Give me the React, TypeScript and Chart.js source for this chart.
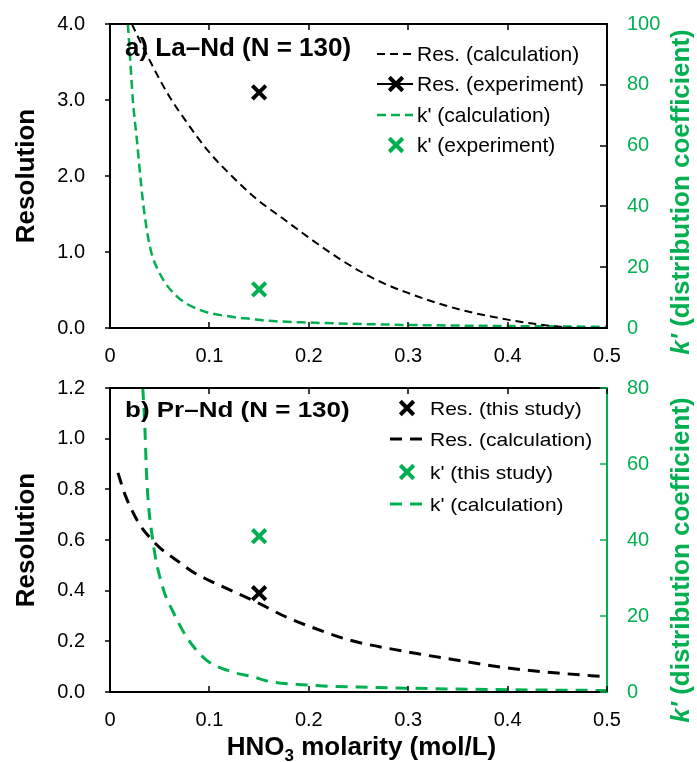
import React, { useEffect, useRef } from "react";
import { Chart, registerables } from "chart.js";

Chart.register(...registerables);

const FONT = "'Liberation Sans', Arial, Helvetica, sans-serif";
const GREEN = "#00B050";
const BLACK = "#000000";

// Shared x axis (HNO3 molarity, mol/L)
const molarityMin = 0;
const molarityMax = 0.5;
const molarityStep = 0.1;

// Panel a) La–Nd — resolution, calculated
const laResCalcX = [0.022, 0.03, 0.04, 0.05, 0.06, 0.077, 0.1, 0.124, 0.141, 0.15, 0.174, 0.2, 0.224, 0.251, 0.275, 0.3, 0.329, 0.359, 0.4, 0.433, 0.453, 0.47, 0.5];
const laResCalcY = [4.0, 3.78, 3.52, 3.27, 3.04, 2.71, 2.31, 1.98, 1.77, 1.67, 1.44, 1.19, 0.97, 0.75, 0.59, 0.46, 0.33, 0.22, 0.11, 0.045, 0.015, 0.0, 0.0];
// Panel a) k' (distribution coefficient), calculated
const laKCalcX = [0.018, 0.02, 0.023, 0.027, 0.033, 0.04, 0.05, 0.067, 0.09, 0.124, 0.141, 0.158, 0.2, 0.3, 0.4, 0.5];
const laKCalcY = [100, 90, 75, 62, 42, 27, 18, 10.5, 6, 3.6, 3.0, 2.4, 1.8, 1.0, 0.65, 0.4];
// Panel a) experimental points
const laExpX = [0.15];
const laResExpY = [3.1];
const laKExpY = [12.7];

// Panel b) Pr–Nd — resolution, calculated
const prResCalcX = [0.008, 0.015, 0.023, 0.03, 0.04, 0.05, 0.067, 0.085, 0.1, 0.125, 0.15, 0.175, 0.2, 0.241, 0.3, 0.35, 0.4, 0.45, 0.5];
const prResCalcY = [0.865, 0.78, 0.71, 0.66, 0.61, 0.57, 0.52, 0.47, 0.44, 0.395, 0.35, 0.3, 0.26, 0.205, 0.158, 0.125, 0.095, 0.075, 0.06];
// Panel b) k', calculated
const prKCalcX = [0.033, 0.035, 0.037, 0.043, 0.053, 0.064, 0.077, 0.097, 0.124, 0.144, 0.158, 0.2, 0.25, 0.3, 0.4, 0.5];
const prKCalcY = [80, 70, 56, 40, 27.6, 20.8, 14.5, 8.4, 5.2, 4.0, 2.9, 1.8, 1.3, 1.0, 0.6, 0.4];
// Panel b) this study
const prExpX = [0.15];
const prResExpY = [0.39];
const prKExpY = [41];

const zip = (xs: number[], ys: number[]) => xs.map((x, i) => ({ x, y: ys[i] }));

type LegendItem = { ds: number; kind: "line" | "marker" | "both" };

type PanelCfg = {
  title: string;
  titleBaseline: number;
  titleScaleY: number;
  rightColor: string;
  legendRows: number[];
  legendX0: number;
  legendX1: number;
  legendTextX: number;
  legendFont: number;
  legendScaleY: number;
  legendItems: LegendItem[];
  rightTitleCy: number;
  xTitleBaseline?: number;
};

function drawCross(ctx: CanvasRenderingContext2D, x: number, y: number, r: number, w: number, color: string) {
  const d = r * Math.SQRT1_2;
  ctx.save();
  ctx.strokeStyle = color;
  ctx.lineWidth = w;
  ctx.setLineDash([]);
  ctx.beginPath();
  ctx.moveTo(x - d, y - d);
  ctx.lineTo(x + d, y + d);
  ctx.moveTo(x + d, y - d);
  ctx.lineTo(x - d, y + d);
  ctx.stroke();
  ctx.restore();
}

function panelDecor(cfg: PanelCfg) {
  return {
    id: "panelDecor",
    afterDatasetsDraw(chart: any) {
      const ctx: CanvasRenderingContext2D = chart.ctx;
      const { left, right, top, bottom } = chart.chartArea;
      const sx = chart.scales.x;
      const sy = chart.scales.y;
      const sy1 = chart.scales.y1;
      ctx.save();

      // frame
      ctx.lineWidth = 2;
      ctx.strokeStyle = BLACK;
      ctx.beginPath();
      ctx.moveTo(right, top);
      ctx.lineTo(left, top);
      ctx.lineTo(left, bottom);
      ctx.lineTo(right, bottom);
      ctx.stroke();
      ctx.strokeStyle = cfg.rightColor;
      ctx.beginPath();
      ctx.moveTo(right, top - 1);
      ctx.lineTo(right, bottom + 1);
      ctx.stroke();

      // tick marks
      ctx.lineWidth = 1.5;
      ctx.strokeStyle = BLACK;
      ctx.beginPath();
      sx.ticks.forEach((t: any) => {
        const px = Math.round(sx.getPixelForValue(t.value));
        ctx.moveTo(px, bottom);
        ctx.lineTo(px, bottom - 6);
        ctx.moveTo(px, top);
        ctx.lineTo(px, top + 6);
      });
      sy.ticks.forEach((t: any) => {
        const py = Math.round(sy.getPixelForValue(t.value));
        ctx.moveTo(left, py);
        ctx.lineTo(left - 5, py);
      });
      ctx.stroke();
      ctx.strokeStyle = cfg.rightColor;
      ctx.beginPath();
      sy1.ticks.forEach((t: any) => {
        const py = Math.round(sy1.getPixelForValue(t.value));
        ctx.moveTo(right, py);
        ctx.lineTo(right - 7, py);
      });
      ctx.stroke();

      // panel title
      ctx.fillStyle = BLACK;
      ctx.font = `bold 26px ${FONT}`;
      ctx.textAlign = "left";
      ctx.textBaseline = "alphabetic";
      ctx.save();
      ctx.translate(left + 15, cfg.titleBaseline);
      ctx.scale(1, cfg.titleScaleY);
      ctx.fillText(cfg.title, 0, 0);
      ctx.restore();

      // legend
      const datasets = chart.data.datasets;
      cfg.legendItems.forEach((item, i) => {
        const ds = datasets[item.ds];
        const base = cfg.legendRows[i];
        const cy = base - 7;
        const color = ds.borderColor;
        if (item.kind === "line" || item.kind === "both") {
          ctx.save();
          ctx.strokeStyle = color;
          ctx.lineWidth = item.kind === "both" ? 2 : ds.borderWidth;
          ctx.setLineDash(item.kind === "both" ? [] : ds.borderDash || []);
          ctx.beginPath();
          ctx.moveTo(cfg.legendX0, cy);
          ctx.lineTo(cfg.legendX1, cy);
          ctx.stroke();
          ctx.restore();
        }
        if (item.kind === "marker" || item.kind === "both") {
          const mid = (cfg.legendX0 + cfg.legendX1) / 2 + 1;
          drawCross(ctx, mid, cy, ds.pointRadius, ds.pointBorderWidth, ds.pointBorderColor);
        }
        ctx.save();
        ctx.fillStyle = BLACK;
        ctx.font = `${cfg.legendFont}px ${FONT}`;
        ctx.translate(cfg.legendTextX, base);
        ctx.scale(1, cfg.legendScaleY);
        ctx.fillText(ds.label, 0, 0);
        ctx.restore();
      });

      // right axis title, reading upward, with italic k'
      {
        const p1 = "k'";
        const p2 = " (distribution coefficient)";
        ctx.save();
        ctx.fillStyle = GREEN;
        ctx.translate(682, cfg.rightTitleCy);
        ctx.rotate(-Math.PI / 2);
        ctx.textBaseline = "middle";
        ctx.font = `italic bold 26px ${FONT}`;
        const w1 = ctx.measureText(p1).width;
        ctx.font = `bold 26px ${FONT}`;
        const w2 = ctx.measureText(p2).width;
        const start = -(w1 + w2) / 2;
        ctx.font = `italic bold 26px ${FONT}`;
        ctx.fillText(p1, start, 0);
        ctx.font = `bold 26px ${FONT}`;
        ctx.fillText(p2, start + w1, 0);
        ctx.restore();
      }

      // x axis title with subscript
      if (cfg.xTitleBaseline !== undefined) {
        const a = "HNO";
        const s = "3";
        const b = " molarity (mol/L)";
        ctx.save();
        ctx.fillStyle = BLACK;
        ctx.textBaseline = "alphabetic";
        ctx.font = `bold 26px ${FONT}`;
        const wa = ctx.measureText(a).width;
        const wb = ctx.measureText(b).width;
        ctx.font = `bold 17px ${FONT}`;
        const ws = ctx.measureText(s).width;
        const cx = (left + right) / 2 + 3;
        let x = cx - (wa + ws + wb) / 2;
        const y = cfg.xTitleBaseline;
        ctx.font = `bold 26px ${FONT}`;
        ctx.fillText(a, x, y);
        x += wa;
        ctx.font = `bold 17px ${FONT}`;
        ctx.fillText(s, x, y + 6);
        x += ws;
        ctx.font = `bold 26px ${FONT}`;
        ctx.fillText(b, x, y);
        ctx.restore();
      }

      ctx.restore();
    },
  };
}

// keep label overhang from pushing the plot area inward
function noOverhang(s: any) {
  s.paddingTop = 0;
  s.paddingBottom = 0;
  s.paddingLeft = 0;
  s.paddingRight = 0;
}

function buildConfig(opts: {
  datasets: any[];
  yMax: number;
  yStep: number;
  y1Max: number;
  xAxisHeight: number;
  topPad: number;
  decor: PanelCfg;
}) {
  const tickFont = { family: FONT, size: 20 };
  return {
    type: "scatter",
    data: { datasets: opts.datasets },
    options: {
      animation: false,
      responsive: false,
      events: [],
      layout: { padding: { top: opts.topPad, left: 0, right: 0, bottom: 0 } },
      plugins: { legend: { display: false }, tooltip: { enabled: false } },
      scales: {
        x: {
          type: "linear",
          min: molarityMin,
          max: molarityMax,
          grid: { display: false, drawTicks: false },
          border: { display: false },
          ticks: {
            stepSize: molarityStep,
            color: BLACK,
            font: tickFont,
            padding: 16,
            maxRotation: 0,
            callback: (v: number) => (v === 0 ? "0" : v.toFixed(1)),
          },
          afterFit: (s: any) => {
            s.height = opts.xAxisHeight;
            noOverhang(s);
          },
        },
        y: {
          type: "linear",
          position: "left",
          min: 0,
          max: opts.yMax,
          grid: { display: false, drawTicks: false },
          border: { display: false },
          ticks: {
            stepSize: opts.yStep,
            color: BLACK,
            font: tickFont,
            padding: 25,
            callback: (v: number) => v.toFixed(1),
          },
          title: {
            display: true,
            text: "Resolution",
            color: BLACK,
            font: { family: FONT, size: 26, weight: "bold" },
            padding: { top: 11, bottom: 0 },
          },
          afterFit: (s: any) => {
            s.width = 110;
            noOverhang(s);
          },
        },
        y1: {
          type: "linear",
          position: "right",
          min: 0,
          max: opts.y1Max,
          grid: { display: false, drawTicks: false },
          border: { display: false },
          ticks: {
            stepSize: 20,
            color: GREEN,
            font: tickFont,
            padding: 20,
          },
          afterFit: (s: any) => {
            s.width = 90;
            noOverhang(s);
          },
        },
      },
    },
    plugins: [panelDecor(opts.decor)],
  };
}

function curve(label: string, xs: number[], ys: number[], axis: string, color: string, width: number, dash: number[]) {
  return {
    label,
    data: zip(xs, ys),
    yAxisID: axis,
    showLine: true,
    borderColor: color,
    backgroundColor: color,
    borderWidth: width,
    borderDash: dash,
    pointRadius: 0,
    cubicInterpolationMode: "monotone",
  };
}

function marker(label: string, xs: number[], ys: number[], axis: string, color: string) {
  return {
    label,
    data: zip(xs, ys),
    yAxisID: axis,
    showLine: false,
    borderColor: color,
    backgroundColor: color,
    pointStyle: "crossRot",
    pointRadius: 9.5,
    pointHoverRadius: 9.5,
    pointBorderWidth: 4,
    pointBorderColor: color,
  };
}

function Panel({ top, height, config }: { top: number; height: number; config: any }) {
  const ref = useRef<HTMLCanvasElement | null>(null);
  useEffect(() => {
    if (!ref.current) return;
    const chart = new Chart(ref.current, config);
    return () => chart.destroy();
  }, [config]);
  return (
    <canvas
      ref={ref}
      width={697}
      height={height}
      style={{ position: "absolute", left: 0, top, width: 697, height, display: "block" }}
    />
  );
}

const configA = buildConfig({
  datasets: [
    curve("Res. (calculation)", laResCalcX, laResCalcY, "y", BLACK, 2, [8, 5]),
    marker("Res. (experiment)", laExpX, laResExpY, "y", BLACK),
    curve("k' (calculation)", laKCalcX, laKCalcY, "y1", GREEN, 2.5, [9, 5]),
    marker("k' (experiment)", laExpX, laKExpY, "y1", GREEN),
  ],
  yMax: 4,
  yStep: 1,
  y1Max: 100,
  xAxisHeight: 42,
  topPad: 24,
  decor: {
    title: "a) La–Nd (N = 130)",
    titleBaseline: 56,
    titleScaleY: 1,
    rightColor: BLACK,
    legendRows: [61, 91, 122, 152],
    legendX0: 377,
    legendX1: 413,
    legendTextX: 417,
    legendFont: 21,
    legendScaleY: 1,
    legendItems: [
      { ds: 0, kind: "line" },
      { ds: 1, kind: "both" },
      { ds: 2, kind: "line" },
      { ds: 3, kind: "marker" },
    ],
    rightTitleCy: 192,
  },
});

const configB = buildConfig({
  datasets: [
    marker("Res. (this study)", prExpX, prResExpY, "y", BLACK),
    curve("Res. (calculation)", prResCalcX, prResCalcY, "y", BLACK, 3, [12, 8]),
    marker("k' (this study)", prExpX, prKExpY, "y1", GREEN),
    curve("k' (calculation)", prKCalcX, prKCalcY, "y1", GREEN, 3, [12, 8]),
  ],
  yMax: 1.2,
  yStep: 0.2,
  y1Max: 80,
  xAxisHeight: 70,
  topPad: 18,
  decor: {
    title: "b) Pr–Nd (N = 130)",
    titleBaseline: 47,
    titleScaleY: 0.85,
    rightColor: GREEN,
    legendRows: [45, 76, 109, 141],
    legendX0: 390,
    legendX1: 422,
    legendTextX: 430,
    legendFont: 21,
    legendScaleY: 0.9,
    legendItems: [
      { ds: 0, kind: "marker" },
      { ds: 1, kind: "line" },
      { ds: 2, kind: "marker" },
      { ds: 3, kind: "line" },
    ],
    rightTitleCy: 190,
    xTitleBaseline: 385,
  },
});

export default function App() {
  return (
    <div style={{ position: "absolute", left: 0, top: 0, width: 697, height: 762, background: "#ffffff" }}>
      <Panel top={0} height={370} config={configA} />
      <Panel top={370} height={392} config={configB} />
    </div>
  );
}
